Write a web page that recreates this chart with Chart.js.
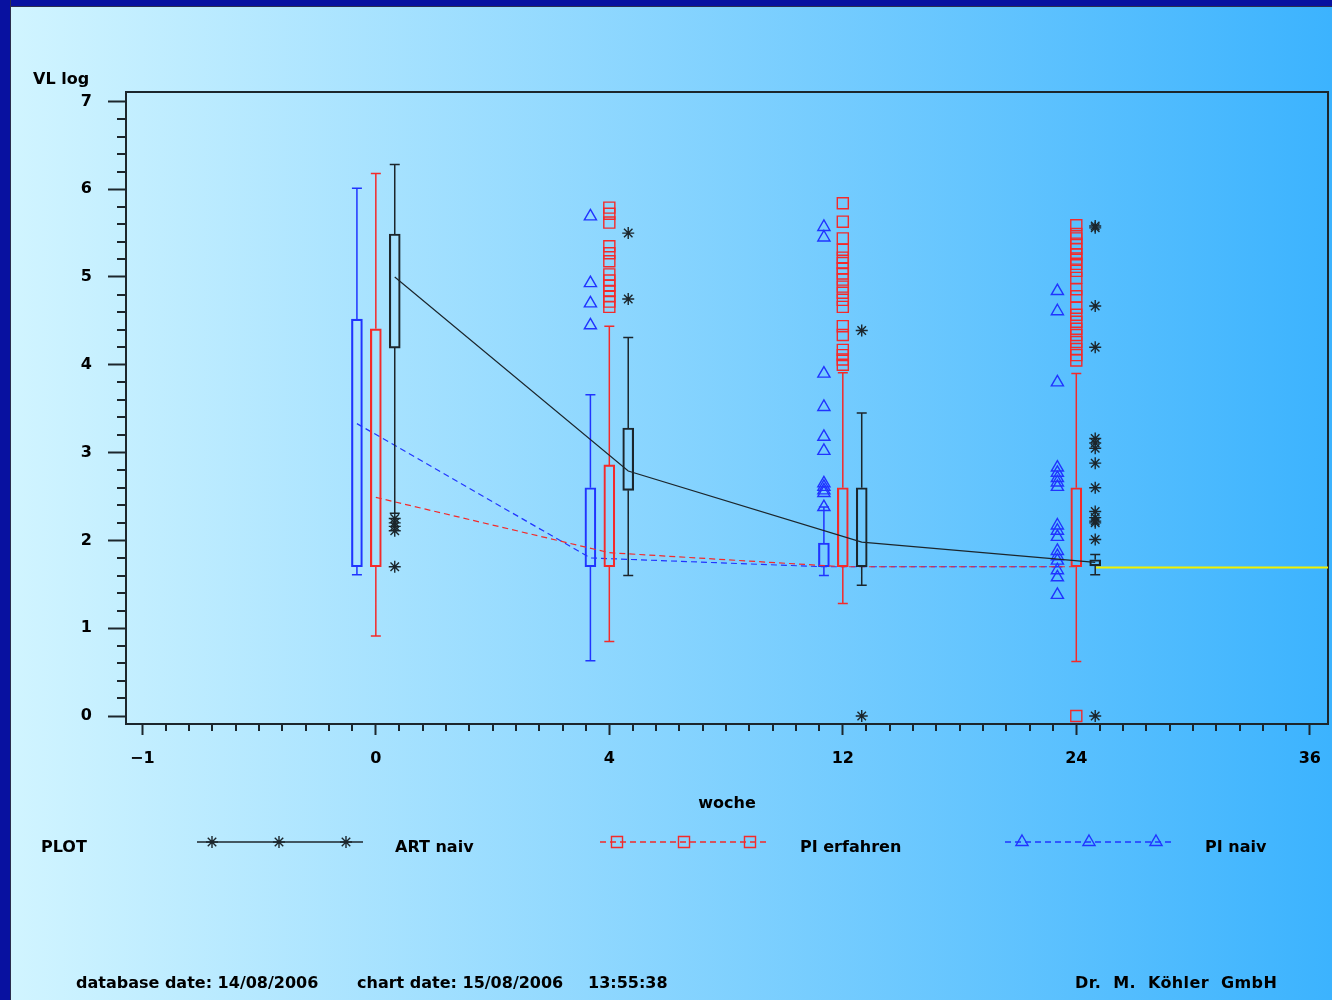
<!DOCTYPE html>
<html>
<head>
<meta charset="utf-8">
<title>VL log</title>
<script src="https://cdn.jsdelivr.net/npm/chart.js@4/dist/chart.umd.min.js"></script>
<style>
body { margin: 0; }
#page {
  position: relative; width: 1332px; height: 1000px; overflow: hidden;
  background: linear-gradient(to right, #d2f5ff, #3cb3fe);
  font-family: "DejaVu Sans", sans-serif; font-weight: bold; font-size: 16px; color: #000;
}
#page canvas { position: absolute; left: 0; top: 0; }
.edge-top { position: absolute; left: 0; top: 0; width: 1332px; height: 6px; background: #0811a0; border-bottom: 1px solid #2b2d4d; }
.edge-left { position: absolute; left: 0; top: 0; width: 10px; height: 1000px; background: #0811a0; border-right: 1px solid #2b2d4d; }
.txt { position: absolute; line-height: 16px; white-space: pre; }
</style>
</head>
<body>
<div id="page">
  <canvas id="vlChart" width="1332" height="1000"></canvas>
  <div class="edge-top"></div>
  <div class="edge-left"></div>
  <div class="txt" style="left:33px;top:71px">VL log</div>
  <div class="txt" style="left:41px;top:839px">PLOT</div>
  <div class="txt" style="left:395px;top:839px">ART naiv</div>
  <div class="txt" style="left:800px;top:839px">PI erfahren</div>
  <div class="txt" style="left:1205px;top:839px">PI naiv</div>
  <div class="txt" style="left:76px;top:975px">database date: 14/08/2006</div>
  <div class="txt" style="left:357px;top:975px">chart date: 15/08/2006</div>
  <div class="txt" style="left:588px;top:975px">13:55:38</div>
  <div class="txt" style="left:1075px;top:975px;word-spacing:6px;letter-spacing:0.4px">Dr. M. Köhler GmbH</div>
</div>
<script>
// axis labels
const xTickLabels = ['\u22121', '0', '4', '12', '24', '36'];
const weeks = ['0', '4', '12', '24'];

// ART naiv (black)
const artHigh = [6.28, 4.31, 3.45, 1.84];
const artQ3 = [5.49, 3.28, 2.60, 1.78];
const artQ1 = [4.19, 2.57, 1.70, 1.71];
const artLow = [2.31, 1.60, 1.49, 1.61];
const artMean = [5.00, 2.79, 1.98, 1.75];
const artOutliers = [
  [2.25, 2.20, 2.16, 2.11, 1.70],
  [5.50, 4.75],
  [4.39, 0.00],
  [5.58, 5.56, 4.67, 4.20, 3.16, 3.11, 3.05, 2.88, 2.60, 2.33, 2.26, 2.22, 2.20, 2.01, 0.00]
];

// PI erfahren (red)
const erfHigh = [6.18, 4.44, 3.91, 3.90];
const erfQ3 = [4.41, 2.86, 2.60, 2.60];
const erfQ1 = [1.70, 1.70, 1.70, 1.70];
const erfLow = [0.91, 0.85, 1.28, 0.62];
const erfMean = [2.49, 1.86, 1.70, 1.70];
const erfOutliers = [
  [],
  [5.79, 5.72, 5.62, 5.35, 5.27, 5.18, 5.03, 4.96, 4.90, 4.84, 4.78, 4.72, 4.66],
  [5.84, 5.63, 5.44, 5.31, 5.22, 5.16, 5.10, 5.04, 4.97, 4.89, 4.82, 4.74, 4.66, 4.44, 4.34, 4.17, 4.11, 4.06, 4.00],
  [5.59, 5.49, 5.44, 5.38, 5.32, 5.26, 5.21, 5.15, 5.07, 4.99, 4.86, 4.78, 4.65, 4.57, 4.49, 4.41, 4.34, 4.26, 4.18, 4.11, 4.05, 0.00]
];

// PI naiv (blue)
const naivHigh = [6.01, 3.66, 2.38, 1.70];
const naivQ3 = [4.52, 2.60, 1.97, 1.70];
const naivQ1 = [1.70, 1.70, 1.70, 1.70];
const naivLow = [1.61, 0.63, 1.60, 1.70];
const naivMean = [3.33, 1.80, 1.70, 1.70];
const naivOutliers = [
  [],
  [5.69, 4.93, 4.70, 4.45],
  [5.57, 5.45, 3.90, 3.52, 3.18, 3.02, 2.65, 2.61, 2.57, 2.54, 2.38],
  [4.84, 4.61, 3.80, 2.83, 2.77, 2.71, 2.66, 2.61, 2.17, 2.11, 2.04, 1.88, 1.82, 1.77, 1.66, 1.58, 1.38]
];

const detectionLimit = 1.69;

const axisColor = '#1c262c';
const xMin = -0.07, xMax = 5.078;
const yMin = -0.091, yMax = 7.107;
const capHalf = 0.0214;

const series = [
  { name: 'ART naiv', color: '#1c262c', shift: 0.081, dash: [], point: 'star', radius: 6,
    high: artHigh, q3: artQ3, q1: artQ1, low: artLow, mean: artMean, outliers: artOutliers },
  { name: 'PI erfahren', color: '#f42a2a', shift: 0, dash: [6, 4], point: 'rect', radius: 7.8,
    high: erfHigh, q3: erfQ3, q1: erfQ1, low: erfLow, mean: erfMean, outliers: erfOutliers },
  { name: 'PI naiv', color: '#2034ff', shift: -0.081, dash: [6, 4], point: 'triangle', radius: 7,
    high: naivHigh, q3: naivQ3, q1: naivQ1, low: naivLow, mean: naivMean, outliers: naivOutliers }
];

function xAt(i, shift) {
  return xTickLabels.indexOf(weeks[i]) + shift;
}

function whiskerData(s) {
  let pts = [];
  weeks.forEach((w, i) => {
    let x = xAt(i, s.shift);
    pts.push({x: x, y: s.q3[i]}, {x: x, y: s.high[i]}, {x: x, y: null});
    pts.push({x: x - capHalf, y: s.high[i]}, {x: x + capHalf, y: s.high[i]}, {x: x, y: null});
    pts.push({x: x, y: s.q1[i]}, {x: x, y: s.low[i]}, {x: x, y: null});
    pts.push({x: x - capHalf, y: s.low[i]}, {x: x + capHalf, y: s.low[i]}, {x: x, y: null});
  });
  return pts;
}

let datasets = [];

series.forEach(s => {
  datasets.push({
    type: 'scatter',
    label: s.name + ' outliers',
    data: s.outliers.flatMap((vals, i) => vals.map(v => ({x: xAt(i, s.shift), y: v}))),
    pointStyle: s.point,
    pointRadius: s.radius,
    borderColor: s.color,
    backgroundColor: 'rgba(0,0,0,0)',
    borderWidth: 1.4
  });
  datasets.push({
    type: 'bar',
    label: s.name + ' box',
    data: weeks.map((w, i) => ({x: xAt(i, s.shift), y: [s.q1[i], s.q3[i]]})),
    backgroundColor: 'rgba(0,0,0,0)',
    borderColor: s.color,
    borderWidth: 1.5,
    borderSkipped: false,
    barThickness: 11,
    grouped: false
  });
  datasets.push({
    type: 'scatter',
    label: s.name + ' whiskers',
    data: whiskerData(s),
    showLine: true,
    spanGaps: false,
    pointRadius: 0,
    borderColor: s.color,
    borderWidth: 1.5
  });
  datasets.push({
    type: 'line',
    label: s.name,
    data: weeks.map((w, i) => ({x: xAt(i, s.shift), y: s.mean[i]})),
    borderColor: s.color,
    borderDash: s.dash,
    borderWidth: 1.2,
    pointRadius: 0,
    fill: false,
    tension: 0
  });
});

datasets.push({
  type: 'line',
  label: 'Nachweisgrenze',
  data: [{x: xAt(3, series[0].shift), y: detectionLimit}, {x: xMax, y: detectionLimit}],
  borderColor: '#f2f200',
  borderWidth: 2,
  pointRadius: 0,
  fill: false
});

// frame top/right, minor ticks and the legend samples
const framePlugin = {
  id: 'frame',
  beforeDatasetsDraw(chart) {
    const {ctx, chartArea: a, scales: {x, y}} = chart;
    ctx.save();
    ctx.strokeStyle = axisColor;
    ctx.lineWidth = 2;
    ctx.beginPath();
    ctx.moveTo(a.left, a.top);
    ctx.lineTo(a.right, a.top);
    ctx.lineTo(a.right, a.bottom);
    ctx.stroke();

    ctx.beginPath();
    for (let k = 1; k < 35; k++) {
      if (k % 5 === 0) continue;
      let py = Math.round(y.getPixelForValue(k * 0.2));
      ctx.moveTo(a.left - 9, py);
      ctx.lineTo(a.left, py);
    }
    for (let k = 1; k < 50; k++) {
      if (k % 10 === 0) continue;
      let px = Math.round(x.getPixelForValue(k * 0.1));
      ctx.moveTo(px, a.bottom);
      ctx.lineTo(px, a.bottom + 7);
    }
    ctx.stroke();
    ctx.restore();
  },
  afterDraw(chart) {
    const ctx = chart.ctx;
    const rows = [
      {s: series[0], x0: 197, marks: [212, 279, 346]},
      {s: series[1], x0: 600, marks: [617, 684, 750]},
      {s: series[2], x0: 1005, marks: [1022, 1089, 1156]}
    ];
    const ly = 842;
    rows.forEach(r => {
      ctx.save();
      ctx.strokeStyle = r.s.color;
      ctx.lineWidth = 1.4;
      ctx.setLineDash(r.s.dash);
      ctx.beginPath();
      ctx.moveTo(r.x0, ly);
      ctx.lineTo(r.x0 + 166, ly);
      ctx.stroke();
      ctx.setLineDash([]);
      ctx.fillStyle = 'rgba(0,0,0,0)';
      r.marks.forEach(mx => {
        Chart.helpers.drawPoint(ctx, {pointStyle: r.s.point, radius: r.s.radius, rotation: 0, borderWidth: 1.4}, mx, ly);
      });
      ctx.restore();
    });
  }
};

Chart.defaults.font.family = '"DejaVu Sans", sans-serif';

new Chart(document.getElementById('vlChart'), {
  type: 'scatter',
  data: { datasets: datasets },
  options: {
    responsive: false,
    animation: false,
    events: [],
    devicePixelRatio: 1,
    layout: { autoPadding: false, padding: { left: 0, top: 92, right: 4, bottom: 0 } },
    plugins: { legend: { display: false }, tooltip: { enabled: false } },
    scales: {
      x: {
        type: 'linear',
        min: xMin,
        max: xMax,
        offset: false,
        afterFit: s => { s.height = 276; s.paddingRight = 0; s.paddingLeft = 0; },
        ticks: {
          stepSize: 1, includeBounds: false, autoSkip: false, maxRotation: 0,
          padding: 14, color: '#000', font: { size: 16, weight: 'bold' },
          callback: v => xTickLabels[v] !== undefined ? xTickLabels[v] : ''
        },
        grid: { offset: false, drawOnChartArea: false, drawTicks: true, tickLength: 11, tickWidth: 2, tickColor: axisColor },
        border: { display: true, color: axisColor, width: 2 },
        title: {
          display: true, text: 'woche', color: '#000',
          font: { size: 16, weight: 'bold' }, padding: { top: 0, bottom: 187 }
        }
      },
      y: {
        type: 'linear',
        min: yMin,
        max: yMax,
        afterFit: s => { s.width = 126; },
        ticks: {
          stepSize: 1, includeBounds: false, padding: 16, color: '#000',
          font: { size: 16, weight: 'bold' }
        },
        grid: { drawOnChartArea: false, drawTicks: true, tickLength: 18, tickWidth: 2, tickColor: axisColor },
        border: { display: true, color: axisColor, width: 2 }
      }
    }
  },
  plugins: [framePlugin]
});
</script>
</body>
</html>
